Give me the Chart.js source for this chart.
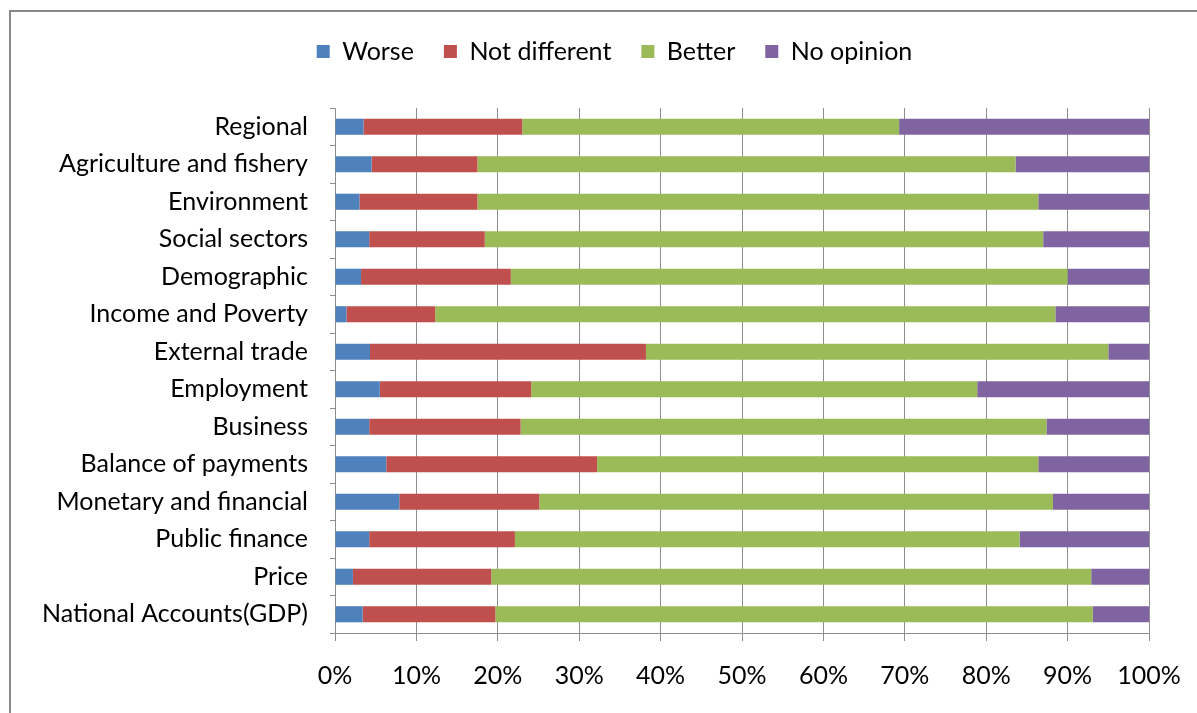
<!DOCTYPE html>
<html>
<head>
<meta charset="utf-8">
<script src="https://cdn.jsdelivr.net/npm/chart.js@4.4.1/dist/chart.umd.min.js"></script>
<style>
  html, body { margin: 0; padding: 0; background: #fff; }
  #wrap { width: 1197px; height: 713px; position: relative; }
</style>
</head>
<body>
<div id="wrap"><canvas id="chart"></canvas></div>
<script>
const categories = [
  'Regional', 'Agriculture and fishery', 'Environment', 'Social sectors',
  'Demographic', 'Income and Poverty', 'External trade', 'Employment',
  'Business', 'Balance of payments', 'Monetary and financial',
  'Public finance', 'Price', 'National Accounts(GDP)'
];
const worse        = [3.5, 4.5, 3.0, 4.2, 3.2, 1.4, 4.3, 5.5, 4.2, 6.3, 7.9, 4.2, 2.2, 3.4];
const notDifferent = [19.5, 13.0, 14.5, 14.2, 18.4, 10.9, 33.9, 18.6, 18.6, 25.9, 17.2, 17.9, 17.0, 16.3];
const better       = [46.3, 66.1, 68.9, 68.6, 68.4, 76.2, 56.8, 54.8, 64.6, 54.2, 63.1, 62.0, 73.7, 73.4];
const noOpinion    = [30.7, 16.4, 13.6, 13.0, 10.0, 11.5, 5.0, 21.1, 12.6, 13.6, 11.8, 15.9, 7.1, 6.9];
const tickLabels   = ['0%', '10%', '20%', '30%', '40%', '50%', '60%', '70%', '80%', '90%', '100%'];

const gridColor = '#8e8e8e';
const font = { family: 'Lato', size: 25 };

// grey frame round the chart, like the Excel chart area
const framePlugin = {
  id: 'frame',
  beforeDraw(chart) {
    const c = chart.ctx;
    c.save();
    c.strokeStyle = '#888';
    c.lineWidth = 2;
    c.beginPath();
    c.moveTo(10, chart.height);
    c.lineTo(10, 11);
    c.lineTo(chart.width, 11);
    c.stroke();
    c.restore();
  }
};

// more room under the legend, and push it a bit right (Excel centres it on the whole area)
const legendTweak = {
  id: 'legendTweak',
  beforeInit(chart) {
    const lg = chart.legend;
    const fit = lg.fit;
    lg.fit = function () {
      fit.call(lg);
      this.height += 35;
    };
    const draw = lg.draw;
    lg.draw = function () {
      const c = this.ctx;
      c.save();
      c.translate(40, 1);
      draw.call(lg);
      c.restore();
    };
  }
};

new Chart(document.getElementById('chart'), {
  type: 'bar',
  data: {
    labels: categories,
    datasets: [
      { label: 'Worse', data: worse, backgroundColor: '#4F81BD' },
      { label: 'Not different', data: notDifferent, backgroundColor: '#C0504D' },
      { label: 'Better', data: better, backgroundColor: '#9BBB59' },
      { label: 'No opinion', data: noOpinion, backgroundColor: '#8064A2' }
    ]
  },
  options: {
    indexAxis: 'y',
    responsive: true,
    maintainAspectRatio: false,
    animation: false,
    datasets: { bar: { barPercentage: 0.43, categoryPercentage: 1 } },
    layout: { padding: { left: 0, right: 48, top: 8, bottom: 0 } },
    plugins: {
      tooltip: { enabled: false },
      legend: {
        position: 'top',
        labels: { boxWidth: 13, boxHeight: 13, padding: 30, color: '#000', font: font }
      }
    },
    scales: {
      x: {
        stacked: true,
        min: 0,
        max: 100,
        ticks: {
          stepSize: 10,
          padding: 20,
          color: '#000',
          font: font,
          callback: (v) => tickLabels[Math.round(v / 10)]
        },
        grid: { color: gridColor, lineWidth: 1, tickLength: 8 },
        border: { color: gridColor },
        afterFit(scale) {
          scale.height = 80;
          // let the layout padding alone decide where the plot ends
          scale.paddingLeft = 0;
          scale.paddingRight = 0;
        }
      },
      y: {
        stacked: true,
        ticks: { padding: 22, color: '#000', font: font },
        grid: { drawOnChartArea: false, color: gridColor, tickLength: 5 },
        border: { color: gridColor },
        afterFit(scale) { scale.width = 335; }
      }
    }
  },
  plugins: [framePlugin, legendTweak]
});
</script>
</body>
</html>
